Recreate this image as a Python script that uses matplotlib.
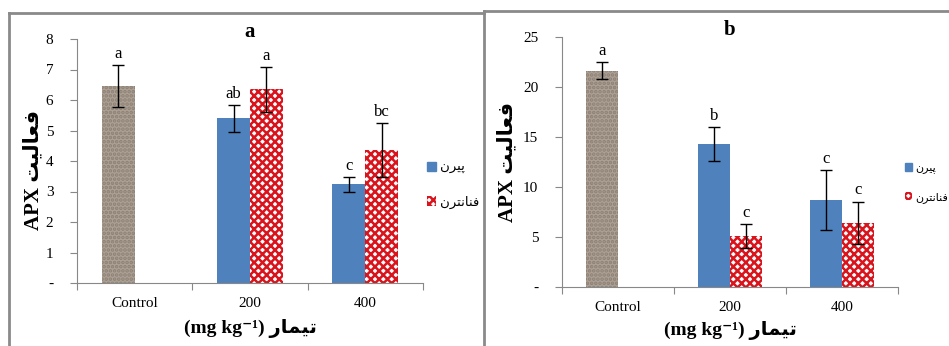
import matplotlib
matplotlib.use("Agg")
import matplotlib.pyplot as plt
from matplotlib.patches import Patch
from matplotlib.lines import Line2D

plt.rcParams["hatch.linewidth"] = 1.8

# --- data ---
categories = ["Control", "200", "400"]

# Persian labels, written in visual (shaped, left-to-right) order
lbl_pyrene = "\uFEE5\uFEAE\uFBFF\uFB58"                     # پیرن
lbl_phen = "\uFEE5\uFEAE\uFE98\uFEE7\uFE8E\uFEE8\uFED3"     # فنانترن
lbl_activity = "\uFE96\uFBFF\uFEDF\uFE8E\uFECC\uFED3"        # فعالیت
lbl_treat = "\uFEAD\uFE8E\uFEE4\uFBFF\uFE97"                 # تیمار

# panel a
a_control, a_control_err, a_control_let = 6.46, 0.69, "a"
a_pyrene = [5.40, 3.24]
a_pyrene_err = [0.44, 0.24]
a_pyrene_let = ["ab", "c"]
a_phen = [6.35, 4.36]
a_phen_err = [0.73, 0.88]
a_phen_let = ["a", "bc"]
a_yticks = [0, 1, 2, 3, 4, 5, 6, 7, 8]

# panel b
b_control, b_control_err, b_control_let = 21.65, 0.87, "a"
b_pyrene = [14.3, 8.7]
b_pyrene_err = [1.67, 3.0]
b_pyrene_let = ["b", "c"]
b_phen = [5.1, 6.45]
b_phen_err = [1.24, 2.1]
b_phen_let = ["c", "c"]
b_yticks = [0, 5, 10, 15, 20, 25]

SERIF = ["Liberation Serif", "DejaVu Sans"]
AR = ["DejaVu Sans"]
BLUE = "#4f81bd"
RED = "#d9141c"
W, H = 949, 346


def px_axes(fig, x0, x1, ytop, ybot):
    return fig.add_axes([x0 / W, (H - ybot) / H, (x1 - x0) / W, (ybot - ytop) / H])


def panel(fig, rect, title, ctrl, ctrl_err, ctrl_let, pyr, pyr_err, pyr_let,
          phen, phen_err, phen_let, yticks, ylab_xy, xlab_y, title_y, leg_xy,
          leg_size):
    ax = px_axes(fig, *rect)
    bw = 0.285
    off = 0.143
    err_kw = dict(ecolor="black", capsize=4, elinewidth=1, capthick=1)
    ymax = yticks[-1]
    pad = ymax * 0.012

    ax.bar(0.5 - off, ctrl, bw, yerr=ctrl_err, facecolor="#aca194",
           edgecolor="#8c8074", hatch="....", linewidth=0, error_kw=err_kw)
    ax.text(0.5 - off, ctrl + ctrl_err + pad, ctrl_let, ha="center", va="bottom",
            family=SERIF, fontsize=12)

    xs = [1.5, 2.5]
    for i, x in enumerate(xs):
        ax.bar(x - off, pyr[i], bw, yerr=pyr_err[i], color=BLUE, error_kw=err_kw)
        ax.text(x - off, pyr[i] + pyr_err[i] + pad, pyr_let[i], ha="center",
                va="bottom", family=SERIF, fontsize=12)
        ax.bar(x + off, phen[i], bw, yerr=phen_err[i], facecolor="white",
               edgecolor=RED, hatch="xxxx", linewidth=0, error_kw=err_kw)
        ax.text(x + off, phen[i] + phen_err[i] + pad, phen_let[i], ha="center",
                va="bottom", family=SERIF, fontsize=12)

    ax.set_xlim(0, 3)
    ax.set_ylim(0, ymax)
    ax.set_yticks(yticks)
    ax.set_yticklabels(["-"] + [str(t) for t in yticks[1:]], family=SERIF, fontsize=11)
    ax.set_xticks([0, 1, 2, 3])
    ax.set_xticklabels([])
    ax.set_xticks([0.5, 1.5, 2.5], minor=True)
    ax.set_xticklabels(categories, minor=True, family=SERIF, fontsize=11)
    ax.tick_params(axis="x", which="minor", length=0, pad=10)
    ax.tick_params(axis="x", which="major", length=5, color="#888888", direction="out")
    ax.tick_params(axis="y", length=5, color="#888888", pad=12)
    for s in ["top", "right"]:
        ax.spines[s].set_visible(False)
    for s in ["left", "bottom"]:
        ax.spines[s].set_color("#888888")

    cx = (rect[0] + rect[1]) / 2 / W
    fig.text(cx, (H - title_y) / H, title, ha="center", va="center",
             family=SERIF, fontsize=15, fontweight="bold")

    # y label: "APX" + Persian word, rotated
    fig.text(ylab_xy[0] / W, (H - ylab_xy[1]) / H,
             "APX " + lbl_activity, rotation=90, ha="center", va="center",
             family=SERIF + AR, fontsize=15, fontweight="bold")
    # x label
    fig.text(cx, (H - xlab_y) / H, "(mg kg\u207b\u00b9) " + lbl_treat,
             ha="center", va="center", family=SERIF + AR, fontsize=14,
             fontweight="bold")

    handles = [Patch(facecolor=BLUE, edgecolor=BLUE),
               Patch(facecolor="white", edgecolor=RED, hatch="xxxx", linewidth=0)]
    fig.legend(handles, [lbl_pyrene, lbl_phen], loc="center left",
               bbox_to_anchor=(leg_xy[0] / W, (H - leg_xy[1]) / H), frameon=False,
               prop={"family": AR, "size": leg_size}, handlelength=0.7,
               handleheight=0.7, handletextpad=0.3, labelspacing=1.6, borderpad=0)
    return ax


fig = plt.figure(figsize=(W / 100, H / 100), dpi=100)

# panel frames
frame = "#8a8a8a"
fig.add_artist(Line2D([9 / W, 484 / W], [(H - 13) / H] * 2, color=frame, lw=2))
fig.add_artist(Line2D([9 / W, 9 / W], [0, (H - 13) / H], color=frame, lw=2))
fig.add_artist(Line2D([484 / W, 1], [(H - 11) / H] * 2, color=frame, lw=2))
fig.add_artist(Line2D([484 / W, 484 / W], [0, (H - 11) / H], color=frame, lw=2))

panel(fig, (77, 423, 39, 283), "a", a_control, a_control_err, a_control_let,
      a_pyrene, a_pyrene_err, a_pyrene_let, a_phen, a_phen_err, a_phen_let,
      a_yticks, (33, 170), 328, 32, (420, 185), 9.5)
panel(fig, (562, 898, 37, 287), "b", b_control, b_control_err, b_control_let,
      b_pyrene, b_pyrene_err, b_pyrene_let, b_phen, b_phen_err, b_phen_let,
      b_yticks, (507, 162), 330, 30, (899, 183), 8)

fig.savefig("out.png", dpi=100)
